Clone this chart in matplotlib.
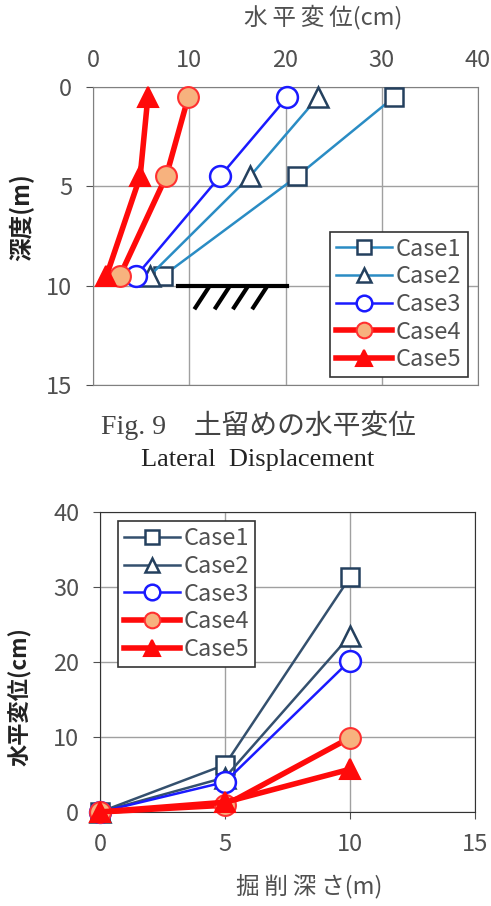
import matplotlib.pyplot as plt
import numpy as np

plt.rcParams['font.family'] = ['Noto Sans CJK JP', 'DejaVu Sans']

# --- data ---
depth = [0.5, 4.5, 9.5]
case1_top = [31.3, 21.2, 7.3]
case2_top = [23.4, 16.3, 5.9]
case3_top = [20.2, 13.2, 4.5]
case4_top = [9.9, 7.6, 2.8]
case5_top = [5.7, 4.9, 1.4]

exc_depth = [0, 5, 10]
case1_bot = [0, 6.3, 31.3]
case2_bot = [0, 4.6, 23.5]
case3_bot = [0, 4.0, 20.2]
case4_bot = [0, 0.9, 9.9]
case5_bot = [0, 1.3, 5.7]

labels = ['Case1', 'Case2', 'Case3', 'Case4', 'Case5']

txt = '#505050'
grid_c = '#a0a0a0'
navy = '#24405e'
sky = '#2a8cc4'
slate = '#34506e'
blue = '#1a1aff'
red = '#ff0a0a'
peach = '#f7b27e'

fig = plt.figure(figsize=(4.91, 9.06), dpi=100)

# ---------------- top chart ----------------
ax1 = fig.add_axes([93/491, 1-385/906, 385/491, 298/906])
ax1.set_xlim(0, 40)
ax1.set_ylim(15, 0)
ax1.xaxis.tick_top()
ax1.set_xticks([0, 10, 20, 30, 40])
ax1.set_yticks([0, 5, 10, 15])
ax1.grid(True, color=grid_c, lw=1)
ax1.set_axisbelow(True)
ax1.tick_params(axis='x', length=0, pad=11, labelsize=17, labelcolor=txt)
ax1.tick_params(axis='y', length=5, direction='out', color=txt, pad=10, labelsize=17, labelcolor=txt)
for s in ax1.spines.values():
    s.set_color('#808080')

top_series = [
    (case1_top, dict(color=sky, lw=1.8, marker='s', ms=13, mfc='white', mec=navy, mew=1.8)),
    (case2_top, dict(color=sky, lw=1.8, marker='^', ms=14, mfc='white', mec=navy, mew=1.8)),
    (case3_top, dict(color=blue, lw=1.8, marker='o', ms=15, mfc='white', mec=blue, mew=1.8)),
    (case4_top, dict(color=red, lw=4, marker='o', ms=15, mfc=peach, mec='#ff3030', mew=1.5)),
    (case5_top, dict(color=red, lw=4, marker='^', ms=15, mfc=red, mec=red, mew=1.5)),
]
for (vals, st), lab in zip(top_series, labels):
    ax1.plot(vals, depth, label=lab, clip_on=False, zorder=3, **st)

# ground surface symbol
ax1.plot([8.8, 20.2], [10, 10], color='black', lw=3, zorder=4)
for x0 in [12.0, 14.1, 16.0, 18.0]:
    ax1.plot([x0, x0 - 1.35], [10.1, 11.1], color='black', lw=3, zorder=4)

leg1 = ax1.legend(loc='lower right', bbox_to_anchor=(0.985, 0.01), fontsize=17,
                  frameon=True, fancybox=False, edgecolor='#333333', framealpha=1,
                  handlelength=2.4, handletextpad=0.15, borderpad=0.25, labelspacing=0.2,
                  borderaxespad=0.2, markerscale=0.75)
for t in leg1.get_texts():
    t.set_color(txt)
leg1.get_frame().set_linewidth(1.2)

fig.text(323/491, 1-17/906, '水\u2009平\u2009変\u2009位(cm)', ha='center', va='center', fontsize=17,
         color=txt)
fig.text(22/491, 1-217/906, '深度(m)', ha='center', va='center', rotation=90,
         fontsize=17, fontweight='bold', color='#222222')

fig.text(258/491, 1-425/906, 'Fig. 9\u3000土留めの水平変位', ha='center', va='center',
         fontsize=20, color='#444444', family=['Liberation Serif', 'Noto Sans CJK JP'])
fig.text(258/491, 1-460/906, 'Lateral  Displacement', ha='center', va='center',
         fontsize=19, color='#222222', family='Liberation Serif')

# ---------------- bottom chart ----------------
ax2 = fig.add_axes([100/491, 1-812/906, 375/491, 300/906])
ax2.set_xlim(0, 15)
ax2.set_ylim(0, 40)
ax2.set_xticks([0, 5, 10, 15])
ax2.set_yticks([0, 10, 20, 30, 40])
ax2.grid(True, color=grid_c, lw=1)
ax2.set_axisbelow(True)
ax2.tick_params(axis='x', length=5, direction='out', color=txt, pad=10, labelsize=17, labelcolor=txt)
ax2.tick_params(axis='y', length=5, direction='out', color=txt, pad=10, labelsize=17, labelcolor=txt)
for s in ax2.spines.values():
    s.set_color('#333333')

bot_series = [
    (case1_bot, dict(color=slate, lw=1.8, marker='s', ms=13, mfc='white', mec=navy, mew=1.8)),
    (case2_bot, dict(color=slate, lw=1.8, marker='^', ms=14, mfc='white', mec=navy, mew=1.8)),
    (case3_bot, dict(color=blue, lw=1.8, marker='o', ms=15, mfc='white', mec=blue, mew=1.8)),
    (case4_bot, dict(color=red, lw=4, marker='o', ms=15, mfc=peach, mec='#ff3030', mew=1.5)),
    (case5_bot, dict(color=red, lw=4, marker='^', ms=15, mfc=red, mec=red, mew=1.5)),
]
for (vals, st), lab in zip(bot_series, labels):
    ax2.plot(exc_depth, vals, label=lab, clip_on=False, zorder=3, **st)

leg2 = ax2.legend(loc='upper left', bbox_to_anchor=(0.035, 0.985), fontsize=17,
                  frameon=True, fancybox=False, edgecolor='#333333', framealpha=1,
                  handlelength=2.4, handletextpad=0.15, borderpad=0.25, labelspacing=0.2,
                  borderaxespad=0.2, markerscale=0.75)
for t in leg2.get_texts():
    t.set_color(txt)
leg2.get_frame().set_linewidth(1.2)

fig.text(20/491, 1-697/906, '水平変位(cm)', ha='center', va='center', rotation=90,
         fontsize=16, fontweight='bold', color='#222222')
fig.text(309/491, 1-886/906, '掘\u2009削\u2009深\u2009さ(m)', ha='center', va='center', fontsize=17,
         color=txt)

plt.savefig('out.png', dpi=100)
